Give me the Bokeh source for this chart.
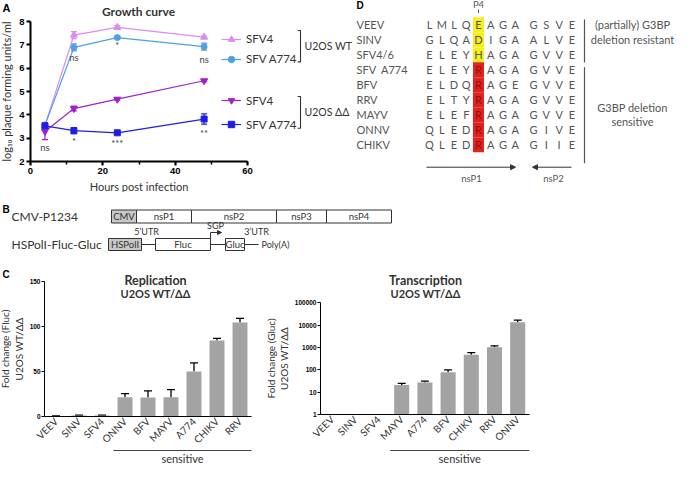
import math
from bokeh.plotting import figure
from bokeh.models import (Range1d, ColumnDataSource, Whisker, TeeHead, Label, Legend,
                          LegendItem, SingleIntervalTicker, FixedTicker, PrintfTickFormatter, Arrow,
                          NormalHead)
from bokeh.layouts import column, row
from bokeh.embed import file_html
from bokeh.resources import INLINE
from bokeh.core.properties import value

FONT = "Lato"
NUMFONT = "Liberation Sans"
TXT = "#333333"

# ---------------- Panel A data ----------------
hours = [4, 12, 24, 48]
wt_sfv4 = [3.55, 7.42, 7.75, 7.33]
wt_sfv4_err = [0.08, 0.15, 0.07, 0.04]
wt_a774 = [3.55, 6.89, 7.31, 6.92]
wt_a774_err = [0.08, 0.15, 0.05, 0.15]
dd_sfv4 = [3.29, 4.27, 4.67, 5.46]
dd_sfv4_err = [0.35, 0.10, 0.04, 0.04]
dd_a774 = [3.53, 3.32, 3.23, 3.82]
dd_a774_err = [0.12, 0.13, 0.05, 0.22]
sig_x = [4, 12, 24, 48, 12, 24, 48]
sig_y = [2.6, 6.44, 6.96, 6.37, 2.86, 2.78, 3.2]
sig_text = ["ns", "ns", "*", "ns", "*", "***", "**"]

# ---------------- Panel D data ----------------
viruses = ["VEEV", "SINV", "SFV4/6", "SFV\u00a0 A774", "BFV", "RRV", "MAYV", "ONNV", "CHIKV"]
nsp1_seq = ["LMLQEAGA", "GLQADIGA", "ELEYHAGA", "ELEYRAGA", "ELDQRAGE",
            "ELTYRAGA", "ELEFRAGA", "QLEDRAGA", "QLEDRAGA"]
nsp2_seq = ["GSVE", "ALVE", "GVVE", "GVVE", "GVVE", "GVVE", "GVVE", "GIVE", "GIIE"]
phenotype = ["resistant"] * 3 + ["sensitive"] * 6

# ---------------- Panel B data ----------------
cmv_parts = ["CMV", "nsP1", "nsP2", "nsP3", "nsP4"]
rep_parts = ["HSPolI", "Fluc", "Gluc"]

# ---------------- Panel C data ----------------
rep_cats = ["VEEV", "SINV", "SFV4", "ONNV", "BFV", "MAYV", "A774", "CHIKV", "RRV"]
rep_vals = [0.5, 1.0, 1.0, 21.5, 21.0, 21.5, 50.0, 84.5, 104.5]
rep_err = [0.3, 0.4, 0.4, 4.0, 7.5, 8.4, 9.5, 2.3, 4.5]
trans_cats = ["VEEV", "SINV", "SFV4", "MAYV", "A774", "BFV", "CHIKV", "RRV", "ONNV"]
trans_vals = [1, 1, 1, 21, 27, 78, 470, 1040, 13700]
trans_err = [0, 0, 0, 4, 4, 21, 120, 150, 3100]
sensitive_first = 3


def canvas_fig(w, h, xr, yr, **kw):
    p = figure(width=w, height=h, x_range=xr, y_range=yr, output_backend="svg",
               toolbar_location=None, title=None, min_border=0, min_border_left=0,
               min_border_right=0, min_border_top=0, min_border_bottom=0, **kw)
    p.frame_align = False
    p.outline_line_color = None
    p.grid.visible = False
    return p


def style_axis(ax, size="9.5px"):
    ax.major_label_text_font = NUMFONT
    ax.major_label_text_font_style = "bold"
    ax.major_label_text_font_size = size
    ax.major_label_text_color = "black"
    ax.axis_label_text_font = FONT
    ax.axis_label_text_font_style = "normal"
    ax.axis_label_text_color = TXT
    ax.axis_line_color = "black"
    ax.major_tick_line_color = "black"
    ax.minor_tick_line_color = "black"
    ax.major_tick_in = 0
    ax.minor_tick_in = 0


# ================= Panel A =================
AW, AH = 352, 192
AX0, ASX = 30.0, 3.617      # canvas px of 0 h, px per hour
AY0, ASY = 161.0, 23.33     # canvas px of log=2, px per unit


def a_x(px):
    return (px - AX0) / ASX


def a_y(py):
    return 2 + (AY0 - py) / ASY


pA = canvas_fig(AW, AH, Range1d(a_x(0), a_x(AW)), Range1d(a_y(AH), a_y(0)))

series = [
    ("SFV4", wt_sfv4, wt_sfv4_err, "#dc8cee", "triangle", 7),
    ("SFV A774", wt_a774, wt_a774_err, "#4f9fe6", "circle", 6),
    ("SFV4", dd_sfv4, dd_sfv4_err, "#a020d0", "inverted_triangle", 7),
    ("SFV A774", dd_a774, dd_a774_err, "#1e1ee0", "square", 6),
]
items = []
for name, ys, errs, col, mk, sz in series:
    src = ColumnDataSource(dict(x=hours, y=ys,
                                lo=[v - e for v, e in zip(ys, errs)],
                                hi=[v + e for v, e in zip(ys, errs)]))
    ln = pA.line("x", "y", source=src, line_color=col, line_width=1.2)
    wh = Whisker(base="x", lower="lo", upper="hi", source=src, line_color=col, line_width=1.2,
                 upper_head=TeeHead(size=6, line_color=col, line_width=1.2),
                 lower_head=TeeHead(size=6, line_color=col, line_width=1.2))
    pA.add_layout(wh)
    sc = pA.scatter("x", "y", source=src, marker=mk, size=sz, fill_color=col, line_color=col)
    items.append(LegendItem(label=name, renderers=[ln, sc]))

for grp, top, sp in [(items[:2], 30.8, 4), (items[2:], 92.2, 8)]:
    hgt = 16 + sp + 16
    leg = Legend(items=grp, location=(221, AH - top - hgt), orientation="vertical",
                 border_line_color=None, background_fill_alpha=0, label_text_font=FONT,
                 label_text_font_size="11.5px", label_text_color=TXT, glyph_width=20,
                 glyph_height=16, label_height=16, spacing=sp, padding=0, margin=0,
                 label_standoff=5)
    pA.add_layout(leg)

bx = a_x(300)
tick = 0.8
for top, bot, lab in [(30, 61.4, "U2OS WT"), (96, 127.7, "U2OS \u0394\u0394")]:
    y0, y1 = a_y(top), a_y(bot)
    pA.line([bx - tick, bx, bx, bx - tick], [y0, y0, y1, y1], line_color=TXT, line_width=1.1)
    pA.text(x=[a_x(304)], y=[(y0 + y1) / 2], text=[lab], text_baseline="middle",
            text_align="left", text_font=value(FONT), text_font_size="10.5px", text_color=TXT)

pA.text(x=sig_x, y=sig_y, text=sig_text, text_align="center", text_baseline="middle",
        text_font=value(FONT), text_font_size="9.5px", text_color="#444444")

pA.add_layout(Label(x=a_x(2), y=a_y(7), text="A", text_font=NUMFONT, text_font_style="bold",
                    text_font_size="11px", text_baseline="middle", text_color="black"))
pA.add_layout(Label(x=a_x(138), y=a_y(10.5), text="Growth curve", text_font=FONT,
                    text_font_style="bold", text_font_size="12px", text_align="center",
                    text_baseline="middle", text_color=TXT))

xa = pA.xaxis[0]
style_axis(xa)
xa.fixed_location = 2
xa.bounds = (0, 60)
xa.ticker = SingleIntervalTicker(interval=20, num_minor_ticks=2)
xa.axis_label = "Hours post infection"
xa.axis_label_text_font_size = "11px"
xa.axis_line_width = 2
xa.major_tick_line_width = 2
xa.minor_tick_line_width = 1.5
xa.major_tick_out = 4
xa.minor_tick_out = 3
xa.major_label_standoff = 2
xa.axis_label_standoff = 3

ya = pA.yaxis[0]
style_axis(ya)
ya.fixed_location = 0
ya.bounds = (2, 8)
ya.ticker = SingleIntervalTicker(interval=1, num_minor_ticks=0)
ya.axis_label = "log\u2081\u2080 plaque forming units/ml"
ya.axis_label_text_font_size = "11px"
ya.axis_line_width = 2
ya.major_tick_line_width = 2
ya.major_tick_out = 4
ya.major_label_standoff = 2
ya.axis_label_standoff = 3

# ================= Panel D =================
DW, DH = 328, 192
pD = canvas_fig(DW, DH, Range1d(0, DW), Range1d(DH, 0), x_axis_location=None,
                y_axis_location=None)

row_y = [24.3 + 15 * i for i in range(len(viruses))]
p4_idx = 4
x1 = [77 + 12.25 * j for j in range(8)]
x2 = [181 + 12.8 * j for j in range(4)]
hl_col = ["#f6ef1c" if ph == "resistant" else "#e2231d" for ph in phenotype]
pD.rect(x=[x1[p4_idx]] * len(row_y), y=row_y, width=11, height=15, fill_color=hl_col,
        line_color=None)

lx, ly, lt, lc = [], [], [], []
for i, (s1, s2) in enumerate(zip(nsp1_seq, nsp2_seq)):
    for j, ch in enumerate(s1):
        lx.append(x1[j]); ly.append(row_y[i]); lt.append(ch)
        lc.append("#8a1414" if (j == p4_idx and phenotype[i] == "sensitive") else "#555555")
    for j, ch in enumerate(s2):
        lx.append(x2[j]); ly.append(row_y[i]); lt.append(ch); lc.append("#555555")
pD.text(x=lx, y=ly, text=lt, text_color=lc, text_align="center", text_baseline="middle",
        text_font=value(FONT), text_font_size="11px")
pD.text(x=[4] * len(viruses), y=row_y, text=viruses, text_align="left", text_baseline="middle",
        text_font=value(FONT), text_font_size="11px", text_color="#555555")
pD.text(x=[4], y=[5], text=["D"], text_font=value(NUMFONT), text_font_style="bold",
        text_font_size="10px", text_baseline="middle", text_color="black")
pD.text(x=[x1[p4_idx]], y=[4], text=["P4"], text_font=value(FONT), text_font_size="9.5px",
        text_align="center", text_baseline="middle", text_color="#555555")
pD.line([x1[p4_idx], x1[p4_idx]], [9, 12.5], line_color="#555555", line_width=1)
pD.line([232, 232], [19, 62], line_color="#555555", line_width=1.2)
pD.line([232, 232], [66.7, 162.7], line_color="#555555", line_width=1.2)
pD.text(x=[280, 280, 280, 280], y=[24.3, 39.3, 106.7, 121],
        text=["(partially) G3BP", "deletion resistant", "G3BP deletion", "sensitive"],
        text_align="center", text_baseline="middle", text_font=value(FONT),
        text_font_size="11px", text_color="#555555")
pD.add_layout(Arrow(x_start=74, y_start=166.7, x_end=163, y_end=166.7, line_color="#333333",
                    line_width=1, end=NormalHead(size=5, fill_color="#333333",
                                                 line_color="#333333")))
pD.add_layout(Arrow(x_start=219, y_start=166.7, x_end=180, y_end=166.7, line_color="#333333",
                    line_width=1, end=NormalHead(size=5, fill_color="#333333",
                                                 line_color="#333333")))
pD.text(x=[119, 201], y=[178, 178], text=["nsP1", "nsP2"], text_align="center",
        text_baseline="middle", text_font=value(FONT), text_font_size="9.5px",
        text_color="#555555")

# ================= Panel B =================
BW, BH = 680, 77
pB = canvas_fig(BW, BH, Range1d(0, BW), Range1d(BH, 0), x_axis_location=None,
                y_axis_location=None)

R1, R2 = 24, 52
pB.text(x=[2], y=[R1 - 7], text=["B"], text_font=value(NUMFONT), text_font_style="bold",
        text_font_size="10px", text_baseline="middle", text_color="black")
pB.text(x=[11, 11], y=[R1, R2], text=["CMV-P1234", "HSPolI-Fluc-Gluc"], text_align="left",
        text_baseline="middle", text_font=value(FONT), text_font_size="12px", text_color=TXT)
edges1 = [111, 136, 191, 276, 326, 391]
pB.quad(left=edges1[:-1], right=edges1[1:], top=R1 - 6.5, bottom=R1 + 6.5,
        fill_color=["#c8c8c8", "white", "white", "white", "white"], line_color="#333333",
        line_width=1)
pB.text(x=[(a + b) / 2 for a, b in zip(edges1[:-1], edges1[1:])], y=[R1] * 5, text=cmv_parts,
        text_align="center", text_baseline="middle", text_font=value(FONT),
        text_font_size="9.5px", text_color=TXT)
l2 = [108, 155, 225]
r2 = [141, 210, 244]
pB.segment(x0=[141, 210, 244], y0=[R2] * 3, x1=[155, 225, 258], y1=[R2] * 3,
           line_color="#333333", line_width=1)
pB.quad(left=l2, right=r2, top=R2 - 6, bottom=R2 + 6, fill_color=["#c8c8c8", "white", "white"],
        line_color="#333333", line_width=1)
pB.text(x=[(a + b) / 2 for a, b in zip(l2, r2)], y=[R2] * 3, text=rep_parts,
        text_align="center", text_baseline="middle", text_font=value(FONT),
        text_font_size="9.5px", text_color=TXT)
pB.text(x=[261], y=[R2], text=["Poly(A)"], text_align="left", text_baseline="middle",
        text_font=value(FONT), text_font_size="9px", text_color=TXT)
pB.text(x=[146, 256, 215], y=[R2 - 13, R2 - 13, R2 - 19],
        text=["5\u2019UTR", "3\u2019UTR", "SGP"],
        text_align="center", text_baseline="middle", text_font=value(FONT),
        text_font_size="9px", text_color=TXT)
pB.line([210, 210, 214], [R2 - 6, R2 - 12, R2 - 12], line_color="#333333", line_width=1)
pB.add_layout(Arrow(x_start=213, y_start=R2 - 12, x_end=221, y_end=R2 - 12,
                    line_color="#333333", line_width=1,
                    end=NormalHead(size=4, fill_color="#333333", line_color="#333333")))


# ================= Panel C =================
CH = 195


def bar_panel(cats, vals, errs, width, log, x0, cw, ytop_px, ybot_px, ytick_vals, ylab):
    """x0: canvas px of the axis; cw: px per category; ytop_px/ybot_px: px of top/bottom tick."""
    def cx(px):
        return (px - x0) / cw
    if log:
        lo_v, hi_v = math.log10(ytick_vals[0]), math.log10(ytick_vals[-1])
    else:
        lo_v, hi_v = ytick_vals[0], ytick_vals[-1]
    spx = (ybot_px - ytop_px) / (hi_v - lo_v)

    def cy(py):
        v = lo_v + (ybot_px - py) / spx
        return 10 ** v if log else v

    kw = dict(y_axis_type="log") if log else {}
    p = canvas_fig(width, CH, Range1d(cx(0), cx(width)), Range1d(cy(CH), cy(0)), **kw)
    pos = [i + 0.5 for i in range(len(cats))]
    bottom = ytick_vals[0]
    p.vbar(x=pos, top=vals, bottom=bottom, width=0.65, fill_color="#a3a3a3", line_color=None)
    keep = [i for i, e in enumerate(errs) if e > 0]
    src = ColumnDataSource(dict(c=[pos[i] for i in keep], lo=[vals[i] for i in keep],
                                hi=[vals[i] + errs[i] for i in keep]))
    p.add_layout(Whisker(base="c", lower="lo", upper="hi", source=src, line_color="black",
                         line_width=1.3, upper_head=TeeHead(size=8, line_color="black",
                                                            line_width=1.3),
                         lower_head=None))
    ya = p.yaxis[0]
    style_axis(ya, "6.5px")
    ya.fixed_location = 0
    ya.bounds = (ytick_vals[0], ytick_vals[-1])
    ya.ticker = FixedTicker(ticks=ytick_vals, minor_ticks=[])
    if log:
        ya.formatter = PrintfTickFormatter(format="%d")
    ya.axis_label = ylab
    ya.axis_label_text_font_size = "10px"
    ya.axis_label_text_line_height = 1.1
    ya.major_tick_out = 3
    ya.major_label_standoff = 1
    ya.axis_label_standoff = 2
    xa = p.xaxis[0]
    style_axis(xa)
    xa.fixed_location = ytick_vals[0]
    xa.bounds = (0, len(cats))
    xa.ticker = FixedTicker(ticks=pos, minor_ticks=[])
    xa.major_label_overrides = {x: c for x, c in zip(pos, cats)}
    xa.major_label_orientation = math.pi / 4
    xa.major_label_text_font = FONT
    xa.major_label_text_font_style = "normal"
    xa.major_label_text_font_size = "10px"
    xa.major_label_text_color = TXT
    xa.major_tick_line_color = None
    xa.major_tick_out = 0
    xa.major_label_standoff = 3
    return p, cx, cy


n = len(rep_cats)
pCL, clx, cly = bar_panel(rep_cats, rep_vals, rep_err, 262, False, 44, 23.0, 11.9, 147,
                          [0, 50, 100, 150], "Fold change (Fluc)\nU2OS WT/\u0394\u0394")
pCR, crx, cry = bar_panel(trans_cats, trans_vals, trans_err, 280, True, 58, 23.2, 33.4, 145,
                          [1, 10, 100, 1000, 10000, 100000],
                          "Fold change (Gluc)\nU2OS WT/\u0394\u0394")

pCL.add_layout(Label(x=clx(2), y=cly(5), text="C", text_font=NUMFONT, text_font_style="bold",
                     text_font_size="10px", text_baseline="middle", text_color="black"))
for p, fx, fy, ttl, tx in [(pCL, clx, cly, "Replication", 155), (pCR, crx, cry,
                                                                   "Transcription", 163)]:
    p.add_layout(Label(x=fx(tx), y=fy(11), text=ttl, text_font=FONT, text_font_style="bold",
                       text_font_size="12.5px", text_align="center", text_baseline="middle",
                       text_color=TXT))
    p.add_layout(Label(x=fx(tx), y=fy(24), text="U2OS WT/\u0394\u0394", text_font=FONT,
                       text_font_style="bold", text_font_size="11px", text_align="center",
                       text_baseline="middle", text_color=TXT))
    p.line([sensitive_first, n], [fy(181), fy(181)], line_color="#444444", line_width=1.2)
    p.text(x=[(sensitive_first + n) / 2], y=[fy(189)], text=["sensitive"],
           text_font=value(FONT), text_font_size="11px", text_align="center",
           text_baseline="middle", text_color=TXT)

layout = column(row(pA, pD), pB, row(pCL, pCR))
open("out.html", "w").write(file_html(layout, INLINE))
